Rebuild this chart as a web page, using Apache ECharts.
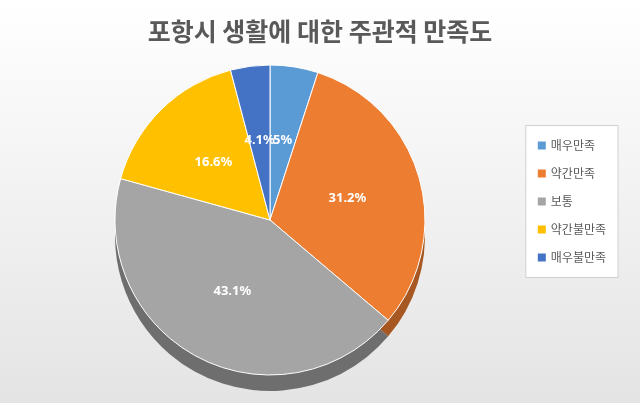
<!DOCTYPE html>
<html><head><meta charset="utf-8">
<script src="https://cdn.jsdelivr.net/npm/echarts@6/dist/echarts.min.js"></script>
<style>html,body{margin:0;padding:0;}#c{width:640px;height:403px;}</style>
</head><body><div id="c"></div>
<script>
// 데이터
var categories = ['매우만족', '약간만족', '보통', '약간불만족', '매우불만족'];
var values = [5, 31.2, 43.1, 16.6, 4.1];
var colors = ['#5B9BD5', '#ED7D31', '#A5A5A5', '#FFC000', '#4472C4'];
var darkColors = ['#3f6d96', '#a65722', '#6e6e6e', '#b38600', '#2f5089'];

var chart = echarts.init(document.getElementById('c'));
var pieData = categories.map(function (n, i) {
    return {name: n, value: values[i], itemStyle: {color: colors[i]}};
});
var shadowData = categories.map(function (n, i) {
    return {name: n, value: values[i], itemStyle: {color: darkColors[i]}};
});
var legendData = categories.map(function (n, i) {
    return {name: n, itemStyle: {color: colors[i]}};
});
var option = {
    backgroundColor: {
        type: 'linear', x: 0, y: 0, x2: 0, y2: 1,
        colorStops: [{offset: 0, color: '#ffffff'}, {offset: 1, color: '#e4e4e4'}]
    },
    title: {
        text: '포항시 생활에 대한 주관적 만족도',
        left: 'center', top: 14,
        textStyle: {color: '#595959', fontSize: 25, fontWeight: 'bold', fontFamily: 'Noto Sans CJK KR'}
    },
    legend: {
        orient: 'vertical', right: 22, top: 'middle',
        data: legendData,
        icon: 'rect', itemWidth: 8, itemHeight: 8, itemGap: 16,
        padding: [14, 12], borderColor: '#d0d0d0', borderWidth: 1, backgroundColor: '#fff',
        textStyle: {color: '#595959', fontSize: 12, fontFamily: 'Noto Sans CJK KR'}
    },
    series: [{
        type: 'pie', silent: true, center: [270, 236], radius: 155,
        startAngle: 90, clockwise: true, z: 1,
        label: {show: false}, labelLine: {show: false},
        data: shadowData
    }, {
        type: 'pie', center: [270, 220], radius: 155,
        startAngle: 90, clockwise: true, z: 2, avoidLabelOverlap: false,
        itemStyle: {borderColor: '#fff', borderWidth: 1},
        labelLayout: {hideOverlap: false},
        label: {
            show: true, position: 'inner', formatter: '{c}%',
            color: '#fff', fontWeight: 'bold', fontSize: 13, fontFamily: 'Noto Sans'
        },
        labelLine: {show: false},
        data: pieData
    }]
};
chart.setOption(option);
</script>
</body></html>
